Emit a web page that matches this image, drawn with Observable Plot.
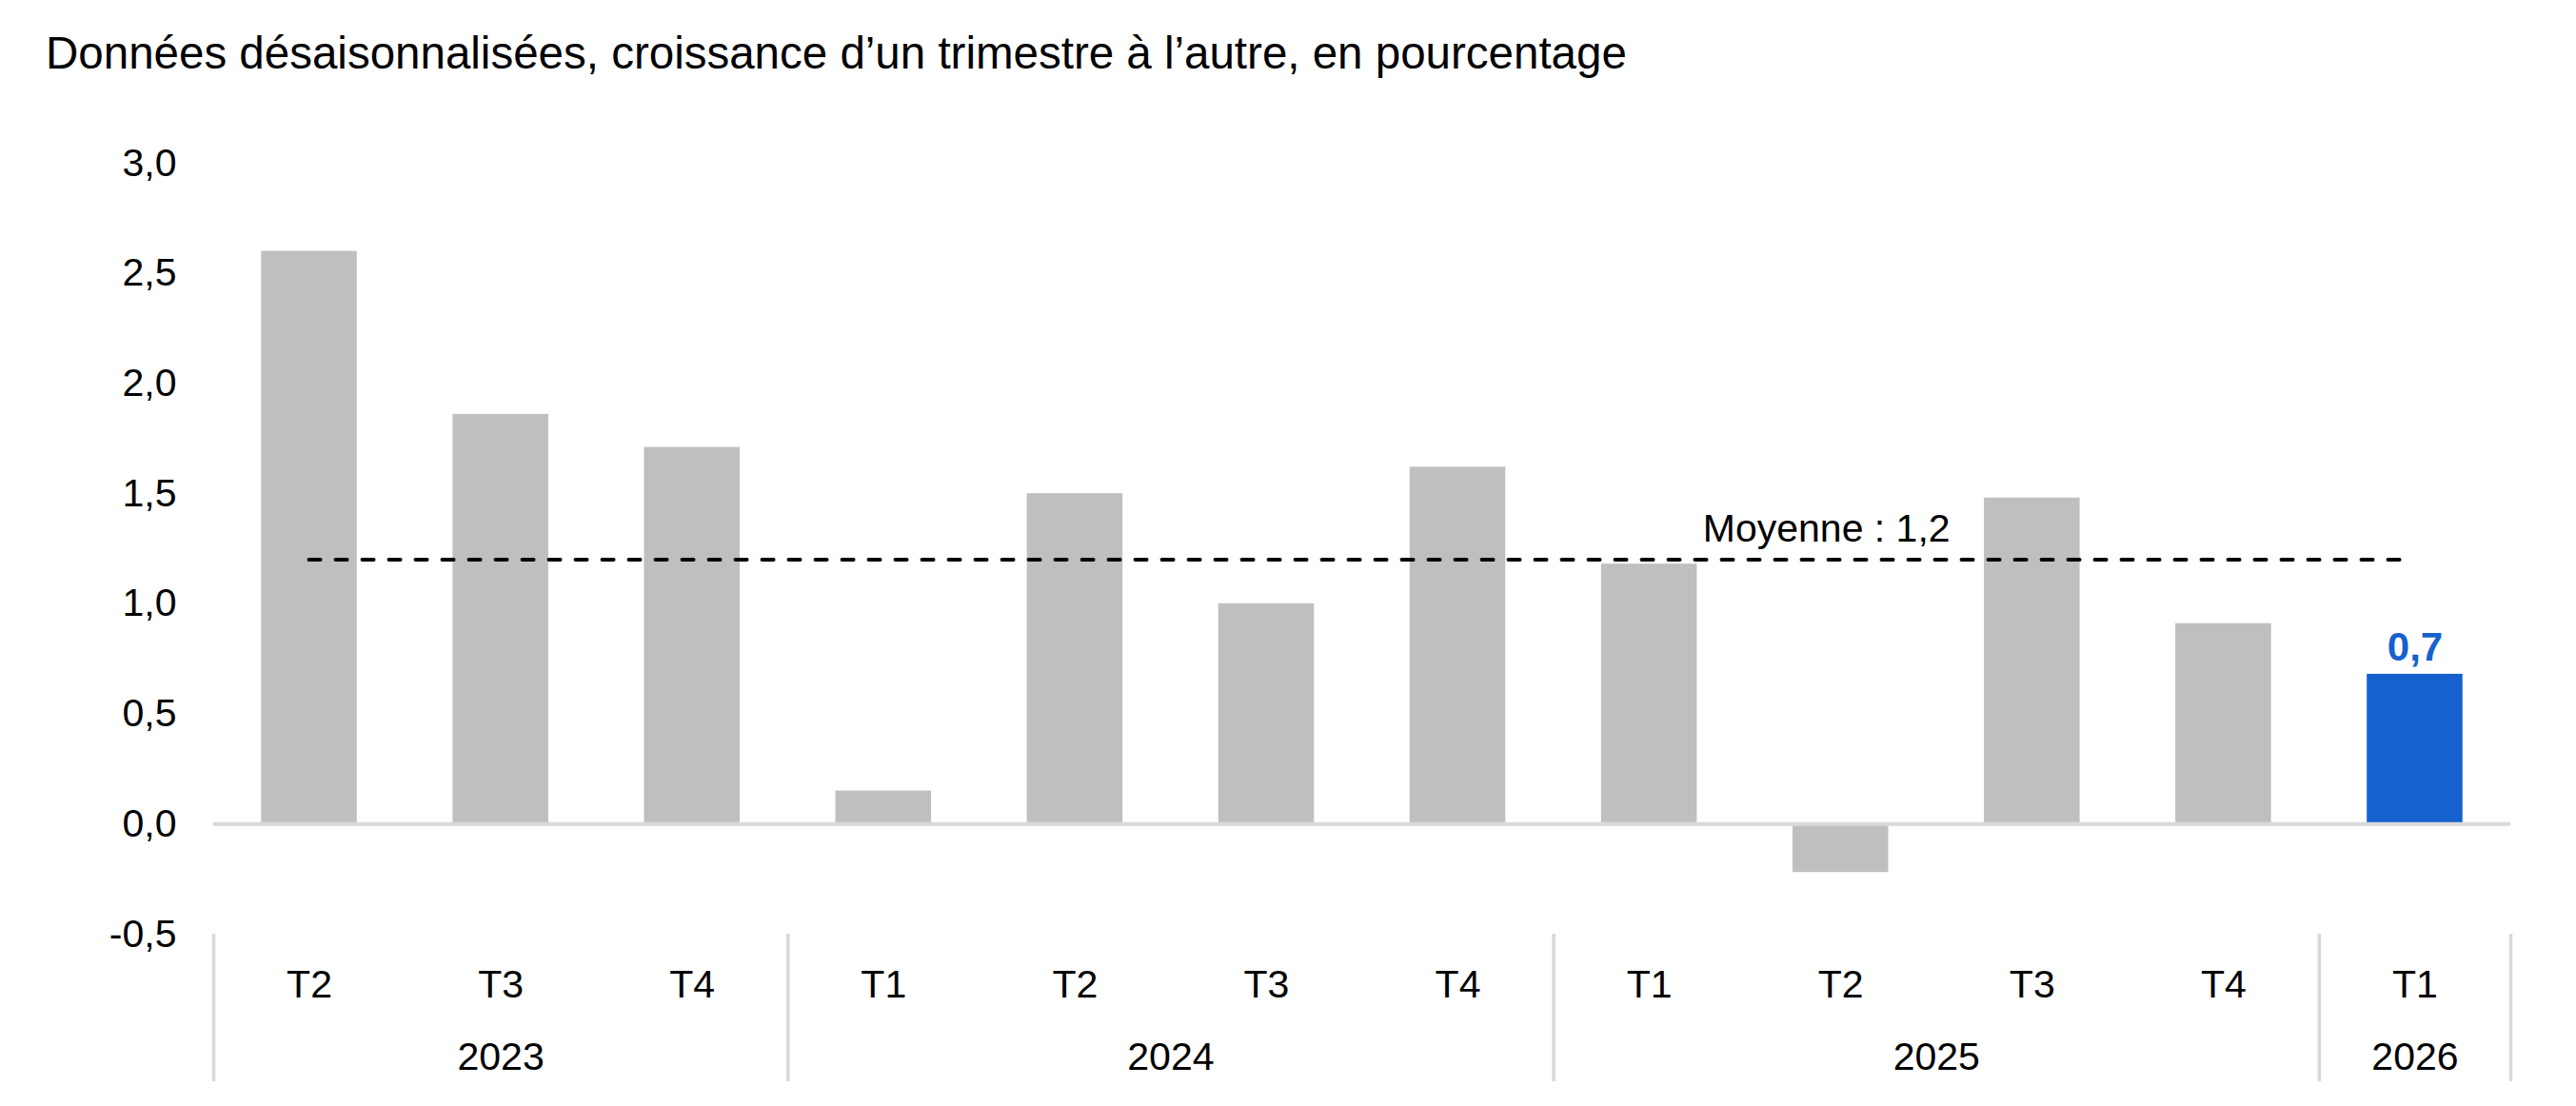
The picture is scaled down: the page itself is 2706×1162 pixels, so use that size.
<!DOCTYPE html>
<html>
<head>
<meta charset="utf-8">
<script src="https://cdn.jsdelivr.net/npm/d3@7"></script>
<script src="https://cdn.jsdelivr.net/npm/@observablehq/plot@0.6"></script>
<style>
  html, body { margin: 0; padding: 0; background: #fff; }
  body { width: 2706px; height: 1162px; overflow: hidden; font-family: "Liberation Sans", Arial, sans-serif; }
  #title { box-sizing: border-box; height: 110px; padding: 32px 0 0 48px; font-size: 47.5px; line-height: 48px; color: #000; white-space: nowrap; }
  #chart svg { display: block; }
</style>
</head>
<body>
<div id="title">Données désaisonnalisées, croissance d’un trimestre à l’autre, en pourcentage</div>
<div id="chart"></div>
<script>
// ---- Data ----
const quarters = ["T2", "T3", "T4", "T1", "T2", "T3", "T4", "T1", "T2", "T3", "T4", "T1"];
const years    = ["2023", "2023", "2023", "2024", "2024", "2024", "2024", "2025", "2025", "2025", "2025", "2026"];
const values   = [2.60, 1.86, 1.71, 0.15, 1.50, 1.00, 1.62, 1.18, -0.22, 1.48, 0.91, 0.68];
const average  = 1.2;
const averageLabel = "Moyenne : 1,2";
const yTicks = [-0.5, 0, 0.5, 1.0, 1.5, 2.0, 2.5, 3.0];

// ---- Derived tables ----
const fmt = v => v.toFixed(1).replace(".", ",");
const data = values.map((v, i) => ({i, quarter: quarters[i], year: years[i], value: v, last: i === values.length - 1}));
const groups = Array.from(d3.group(data, d => d.year), ([year, rows]) => ({
  year,
  start: d3.min(rows, d => d.i),
  end: d3.max(rows, d => d.i) + 1
}));
const yearCenters = groups.map(g => (g.start + g.end) / 2);
const boundaries = Array.from(new Set([...groups.map(g => g.start), ...groups.map(g => g.end)])).sort((a, b) => a - b);
const lastDatum = data[data.length - 1];

const GRAY = "#bfbfbf";
const BLUE = "#1561ce";
const LINE = "#d9d9d9";
const FONT = 41;

const plot = Plot.plot({
  width: 2706,
  height: 1052,
  marginTop: 61,
  marginBottom: 181,
  marginLeft: 224,
  marginRight: 69,
  style: {fontFamily: '"Liberation Sans", Arial, sans-serif', fontSize: FONT + "px", color: "#000", background: "#fff", overflow: "visible"},
  x: {type: "linear", domain: [0, values.length], axis: null},
  y: {domain: [-0.5, 3.0], axis: null},
  marks: [
    // y axis labels
    Plot.axisY({ticks: yTicks, tickFormat: fmt, tickSize: 0, tickPadding: 39, label: null, fontSize: FONT, fill: "#000"}),
    // bars
    Plot.rectY(data, {
      x1: d => d.i + 0.25,
      x2: d => d.i + 0.75,
      y1: 0,
      y2: "value",
      fill: d => d.last ? BLUE : GRAY
    }),
    // baseline
    Plot.ruleY([0], {stroke: LINE, strokeWidth: 4}),
    // average dashed line
    Plot.ruleY([average], {x1: 0.5, x2: values.length - 0.5, stroke: "#000", strokeWidth: 4, strokeDasharray: "12,16", strokeLinecap: "round"}),
    Plot.text([average], {x: 8.5, y: d => d, text: () => averageLabel, lineAnchor: "bottom", dy: -19, dx: -15, fontSize: FONT, fill: "#000"}),
    // highlighted value label
    Plot.text([lastDatum], {x: d => d.i + 0.5, y: "value", text: d => fmt(d.value), lineAnchor: "bottom", dy: -14, fontSize: FONT + 1, fontWeight: "bold", fill: BLUE}),
    // category axis: quarters
    Plot.axisX({ticks: data.map(d => d.i + 0.5), tickFormat: v => quarters[Math.floor(v)], tickSize: 0, tickPadding: 37, label: null, fontSize: FONT, fill: "#000"}),
    // category axis: years
    Plot.axisX({ticks: yearCenters, tickFormat: v => groups[yearCenters.indexOf(v)].year, tickSize: 0, tickPadding: 113, label: null, fontSize: FONT, fill: "#000"}),
    // group separators
    Plot.axisX({ticks: boundaries, tickFormat: () => "", tickSize: 155, label: null, stroke: LINE, strokeWidth: 3.5})
  ]
});
document.getElementById("chart").appendChild(plot);
</script>
</body>
</html>
